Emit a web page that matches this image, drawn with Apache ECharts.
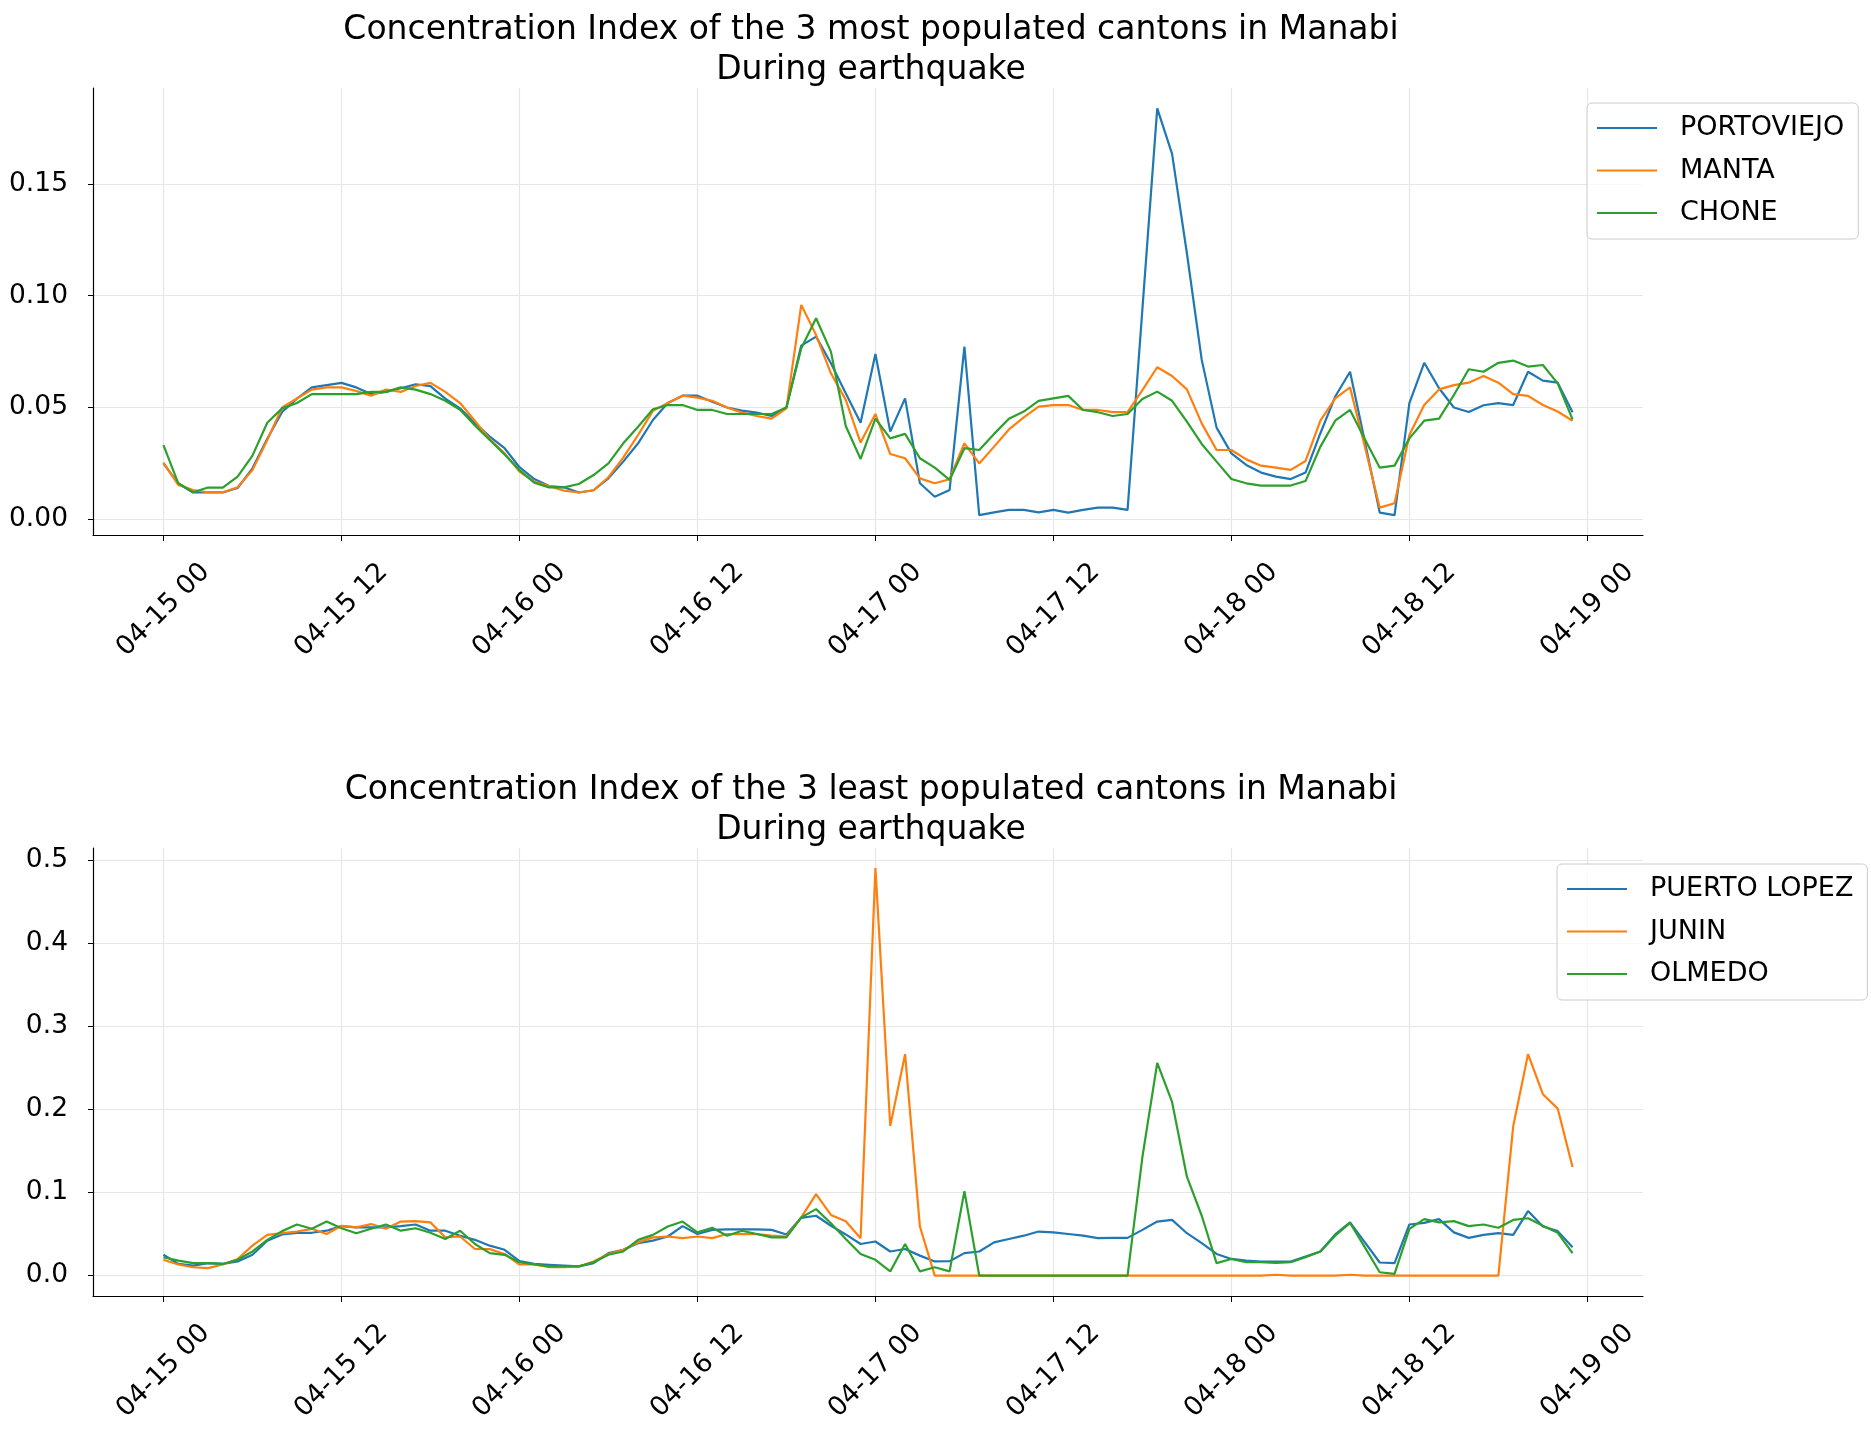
<!DOCTYPE html>
<html>
<head>
<meta charset="utf-8">
<script src="https://cdn.jsdelivr.net/npm/echarts@6/dist/echarts.min.js"></script>
<style>
html,body{margin:0;padding:0;background:#fff;}
#chart{width:1871px;height:1437px;}
</style>
</head>
<body>
<div id="chart"></div>
<script>
// hourly samples, 2016-04-15 00h .. 2016-04-18 23h (hour offsets)
var hours = [];
for (var i = 0; i < 96; i++) hours.push(i);

var tickHours = [0, 12, 24, 36, 48, 60, 72, 84, 96];
var tickLabels = ['04-15 00', '04-15 12', '04-16 00', '04-16 12', '04-17 00', '04-17 12', '04-18 00', '04-18 12', '04-19 00'];

var topTicks = [0, 0.05, 0.10, 0.15];
var bottomTicks = [0, 0.1, 0.2, 0.3, 0.4, 0.5];

var topNames = ['PORTOVIEJO', 'MANTA', 'CHONE'];
var bottomNames = ['PUERTO LOPEZ', 'JUNIN', 'OLMEDO'];

var portoviejo = [
 0.025, 0.016, 0.012, 0.012, 0.012, 0.014, 0.0228, 0.036, 0.048, 0.054, 0.059, 0.060, 0.061, 0.059, 0.056, 0.057, 0.0586, 0.0604, 0.0596, 0.054, 0.0496, 0.043, 0.037, 0.0318,
 0.0233, 0.018, 0.0149, 0.0143, 0.012, 0.013, 0.0183, 0.0258, 0.034, 0.0444, 0.052, 0.0553, 0.0553, 0.0526, 0.050, 0.0486, 0.0477, 0.0462, 0.050, 0.0777, 0.0817, 0.0698, 0.0564, 0.0432,
 0.0739, 0.0392, 0.0541, 0.0161, 0.0101, 0.0131, 0.0772, 0.0019, 0.0031, 0.0042, 0.0042, 0.0031, 0.0042, 0.003, 0.0042, 0.0052, 0.0052, 0.0042, 0.094, 0.1838, 0.1634, 0.119, 0.0713, 0.041,
 0.0295, 0.0243, 0.0209, 0.0191, 0.018, 0.0209, 0.0385, 0.0549, 0.066, 0.0347, 0.003, 0.0019, 0.052, 0.070, 0.0586, 0.050, 0.048, 0.051, 0.052, 0.0511, 0.066, 0.062, 0.0611, 0.0479
];
var manta = [
 0.0253, 0.0154, 0.0131, 0.0121, 0.0121, 0.0143, 0.022, 0.0355, 0.050, 0.054, 0.058, 0.059, 0.059, 0.0574, 0.0553, 0.058, 0.057, 0.0596, 0.061, 0.057, 0.052, 0.044, 0.0358, 0.0295,
 0.0213, 0.0168, 0.0149, 0.0128, 0.012, 0.013, 0.0188, 0.0276, 0.0377, 0.0485, 0.052, 0.0553, 0.0544, 0.053, 0.050, 0.0477, 0.0462, 0.045, 0.0496, 0.0959, 0.0824, 0.0653, 0.0534, 0.0343,
 0.0471, 0.0292, 0.0273, 0.0183, 0.0161, 0.0179, 0.034, 0.025, 0.0325, 0.0402, 0.0456, 0.0504, 0.0511, 0.0511, 0.0489, 0.0489, 0.0479, 0.0479, 0.0578, 0.068, 0.0641, 0.0581, 0.0429, 0.031,
 0.031, 0.0268, 0.024, 0.0231, 0.0221, 0.0261, 0.0441, 0.0541, 0.059, 0.0325, 0.0052, 0.0072, 0.0377, 0.0511, 0.0581, 0.060, 0.0611, 0.0641, 0.0611, 0.056, 0.0552, 0.0511, 0.0482, 0.0441
];
var chone = [
 0.0332, 0.0161, 0.0121, 0.0142, 0.0142, 0.0191, 0.0285, 0.0432, 0.0496, 0.052, 0.056, 0.056, 0.056, 0.056, 0.057, 0.057, 0.059, 0.058, 0.056, 0.053, 0.049, 0.042, 0.0355, 0.029,
 0.022, 0.0164, 0.0143, 0.0143, 0.0158, 0.0198, 0.025, 0.034, 0.0414, 0.0492, 0.0511, 0.0511, 0.0489, 0.0489, 0.0471, 0.0471, 0.0471, 0.0471, 0.050, 0.0765, 0.0899, 0.075, 0.0417, 0.027,
 0.045, 0.0362, 0.0382, 0.0273, 0.0231, 0.0176, 0.0318, 0.031, 0.0382, 0.045, 0.0482, 0.053, 0.0541, 0.0552, 0.0489, 0.0479, 0.0462, 0.0471, 0.0538, 0.0571, 0.053, 0.0437, 0.0337, 0.0258,
 0.018, 0.0161, 0.0151, 0.0151, 0.0151, 0.0171, 0.0325, 0.0441, 0.0489, 0.0358, 0.0231, 0.024, 0.0362, 0.0441, 0.045, 0.0556, 0.0671, 0.066, 0.070, 0.071, 0.0683, 0.069, 0.0608, 0.0447
];
var puertoLopez = [
 0.025, 0.014, 0.012, 0.015, 0.014, 0.017, 0.025, 0.042, 0.0495, 0.0515, 0.0515, 0.054, 0.0595, 0.058, 0.058, 0.058, 0.0595, 0.0615, 0.054, 0.054, 0.048, 0.043, 0.036, 0.031,
 0.0173, 0.014, 0.013, 0.012, 0.011, 0.015, 0.027, 0.031, 0.039, 0.042, 0.047, 0.0595, 0.050, 0.055, 0.0555, 0.0555, 0.0555, 0.055, 0.0495, 0.0695, 0.072, 0.060, 0.0495, 0.038,
 0.041, 0.029, 0.032, 0.024, 0.017, 0.0173, 0.027, 0.029, 0.040, 0.044, 0.048, 0.053, 0.0519, 0.050, 0.048, 0.045, 0.0454, 0.0454, 0.055, 0.065, 0.067, 0.051, 0.039, 0.026,
 0.020, 0.018, 0.0169, 0.0169, 0.0169, 0.023, 0.029, 0.0495, 0.064, 0.040, 0.0157, 0.015, 0.0615, 0.0635, 0.068, 0.052, 0.0454, 0.049, 0.051, 0.049, 0.0776, 0.059, 0.0535, 0.034
];
var junin = [
 0.019, 0.0133, 0.010, 0.009, 0.0133, 0.020, 0.036, 0.049, 0.051, 0.053, 0.0563, 0.050, 0.060, 0.058, 0.062, 0.0563, 0.065, 0.0655, 0.064, 0.046, 0.047, 0.032, 0.0318, 0.026,
 0.0133, 0.0133, 0.010, 0.010, 0.011, 0.017, 0.026, 0.031, 0.040, 0.046, 0.047, 0.045, 0.047, 0.045, 0.050, 0.050, 0.050, 0.048, 0.047, 0.070, 0.098, 0.073, 0.0655, 0.045,
 0.4905, 0.180, 0.2666, 0.059, 0, 0, 0, 0, 0, 0, 0, 0, 0, 0, 0, 0, 0, 0, 0, 0, 0, 0, 0, 0,
 0, 0, 0, 0.001, 0, 0, 0, 0, 0.001, 0, 0, 0, 0, 0, 0, 0, 0, 0, 0, 0.1797, 0.2666, 0.2183, 0.201, 0.1307
];
var olmedo = [
 0.022, 0.018, 0.015, 0.015, 0.014, 0.019, 0.029, 0.043, 0.0535, 0.0615, 0.0563, 0.065, 0.057, 0.051, 0.0563, 0.0615, 0.054, 0.057, 0.0515, 0.044, 0.054, 0.038, 0.027, 0.025,
 0.016, 0.0133, 0.011, 0.011, 0.011, 0.016, 0.025, 0.029, 0.043, 0.049, 0.059, 0.065, 0.052, 0.0575, 0.048, 0.054, 0.050, 0.046, 0.046, 0.070, 0.080, 0.063, 0.044, 0.026,
 0.019, 0.005, 0.038, 0.005, 0.010, 0.005, 0.1017, 0, 0, 0, 0, 0, 0, 0, 0, 0, 0, 0, 0.1427, 0.256, 0.209, 0.119, 0.072, 0.015,
 0.020, 0.016, 0.016, 0.0153, 0.016, 0.022, 0.029, 0.048, 0.0635, 0.034, 0.004, 0.002, 0.0563, 0.068, 0.064, 0.0655, 0.0595, 0.0615, 0.0575, 0.067, 0.069, 0.060, 0.0515, 0.027
];

var colors = ['#1f77b4', '#ff7f0e', '#2ca02c'];
var FONT = 'DejaVu Sans';

function pairs(arr) { return hours.map(function (h, i) { return [h, arr[i]]; }); }

function xAxisFor(gi) {
  return {
    gridIndex: gi, type: 'value', min: -4.75, max: 99.75,
    axisLine: { show: true, onZero: false, lineStyle: { color: '#000', width: 1.2 } },
    axisTick: { show: true, length: 6, customValues: tickHours, lineStyle: { color: '#000', width: 1 } },
    axisLabel: {
      customValues: tickHours, rotate: 45, align: 'center', verticalAlign: 'middle', margin: 75,
      fontSize: 26.5, fontFamily: FONT, color: '#000',
      formatter: function (v) { var k = tickHours.indexOf(Math.round(v)); return k >= 0 ? tickLabels[k] : ''; }
    },
    splitLine: { show: true, lineStyle: { color: '#e6e6e6', width: 1.2 } }
  };
}
function yAxisFor(gi, mn, mx, ticks, dec) {
  return {
    gridIndex: gi, type: 'value', min: mn, max: mx,
    axisLine: { show: true, onZero: false, lineStyle: { color: '#000', width: 1.2 } },
    axisTick: { show: true, length: 5, customValues: ticks, lineStyle: { color: '#000', width: 1 } },
    axisLabel: {
      customValues: ticks, margin: 25, fontSize: 26.5, fontFamily: FONT, color: '#000',
      formatter: function (v) { return v.toFixed(dec); }
    },
    splitLine: { show: true, lineStyle: { color: '#e6e6e6', width: 1.2 } }
  };
}
function lineSeries(name, arr, ci, gi) {
  return {
    name: name, type: 'line', xAxisIndex: gi, yAxisIndex: gi, data: pairs(arr),
    showSymbol: false, symbol: 'none', color: colors[ci],
    lineStyle: { width: 2.2, color: colors[ci] }, animation: false
  };
}
function legendFor(names, left, top) {
  return {
    data: names, orient: 'vertical', left: left, top: top,
    icon: 'rect', itemWidth: 60, itemHeight: 2, itemGap: 10.5,
    padding: [9, 14, 10, 10],
    backgroundColor: 'rgba(255,255,255,0.8)', borderColor: '#cccccc', borderWidth: 1, borderRadius: 5,
    textStyle: { fontSize: 27, fontFamily: FONT, color: '#000', lineHeight: 32, padding: [0, 0, 0, 18] }
  };
}

var chart = echarts.init(document.getElementById('chart'), null, { renderer: 'canvas' });
chart.setOption({
  backgroundColor: '#ffffff',
  animation: false,
  textStyle: { fontFamily: FONT },
  title: [
    { text: 'Concentration Index of the 3 most populated cantons in Manabi\nDuring earthquake',
      left: 866, top: 5, textAlign: 'center',
      textStyle: { fontSize: 33, fontWeight: 'normal', fontFamily: FONT, color: '#000', lineHeight: 40 } },
    { text: 'Concentration Index of the 3 least populated cantons in Manabi\nDuring earthquake',
      left: 866, top: 765, textAlign: 'center',
      textStyle: { fontSize: 33, fontWeight: 'normal', fontFamily: FONT, color: '#000', lineHeight: 40 } }
  ],
  legend: [legendFor(topNames, 1587, 103), legendFor(bottomNames, 1557, 864)],
  grid: [
    { left: 93, top: 88, width: 1550, height: 447 },
    { left: 93, top: 848, width: 1550, height: 448 }
  ],
  xAxis: [xAxisFor(0), xAxisFor(1)],
  yAxis: [yAxisFor(0, -0.00702, 0.1929, topTicks, 2), yAxisFor(1, -0.0246, 0.5147, bottomTicks, 1)],
  series: [
    lineSeries(topNames[0], portoviejo, 0, 0),
    lineSeries(topNames[1], manta, 1, 0),
    lineSeries(topNames[2], chone, 2, 0),
    lineSeries(bottomNames[0], puertoLopez, 0, 1),
    lineSeries(bottomNames[1], junin, 1, 1),
    lineSeries(bottomNames[2], olmedo, 2, 1)
  ]
});
</script>
</body>
</html>
